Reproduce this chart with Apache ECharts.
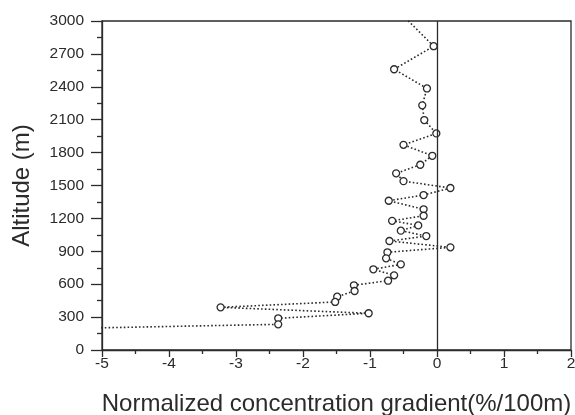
<!DOCTYPE html>
<html>
<head>
<meta charset="utf-8">
<script src="https://cdn.jsdelivr.net/npm/echarts@6/dist/echarts.min.js"></script>
<style>
  html, body { margin: 0; padding: 0; background: #fff; }
  #chart { width: 575px; height: 415px; }
</style>
</head>
<body>
<div id="chart"></div>
<script>
// gradient values (%/100m), top to bottom
var gradient = [
  -0.59, -0.05, -0.64, -0.15, -0.22, -0.19, -0.01, -0.50, -0.07, -0.25,
  -0.61, -0.50, 0.20, -0.20, -0.72, -0.20, -0.20, -0.67, -0.28, -0.54,
  -0.16, -0.71, 0.20, -0.74, -0.76, -0.54, -0.95, -0.64, -0.73, -1.24,
  -1.23, -1.49, -1.52, -3.23, -1.02, -2.37, -2.37, -5.3
]
// altitude of each point (m); first and last lie just outside the frame
var altitude = [
  3100, 2770, 2560, 2385, 2231, 2097, 1975, 1871, 1771, 1689,
  1611, 1540, 1477, 1413, 1361, 1283, 1224, 1178, 1136, 1088,
  1039, 994, 936, 891, 836, 781, 736, 681, 632, 590,
  538, 486, 438, 389, 335, 289, 234, 199
]

var ink = '#2b2b2b'
var font = 'Liberation Sans'
var points = gradient.map(function (g, i) { return [g, altitude[i]] })

var chart = echarts.init(document.getElementById('chart'))
chart.setOption({
  animation: false,
  grid: {
    left: 102, right: 4, top: 21, bottom: 65,
    outerBoundsMode: 'none', containLabel: false,
    show: true, borderColor: ink, borderWidth: 1.3, backgroundColor: 'transparent'
  },
  xAxis: {
    type: 'value', min: -5, max: 2, interval: 1,
    name: 'Normalized concentration gradient(%/100m)',
    nameLocation: 'middle', nameGap: 42,
    nameTextStyle: { color: ink, fontSize: 24, fontFamily: font },
    axisLine: { onZero: false, lineStyle: { color: ink, width: 1.3 } },
    axisTick: { length: 7, lineStyle: { color: ink, width: 1.3 } },
    minorTick: { show: true, splitNumber: 2, length: 4, lineStyle: { color: ink, width: 1.3 } },
    axisLabel: { color: ink, fontSize: 15.5, margin: 6, fontFamily: font },
    splitLine: { show: false }
  },
  yAxis: {
    type: 'value', min: 0, max: 3000, interval: 300,
    name: 'Altitude (m)',
    nameLocation: 'middle', nameGap: 68, nameRotate: 90,
    nameTextStyle: { color: ink, fontSize: 24, fontFamily: font },
    axisLine: { show: true, onZero: false, lineStyle: { color: ink, width: 1.3 } },
    axisTick: { show: true, length: 11, lineStyle: { color: ink, width: 1.3 } },
    minorTick: { show: true, splitNumber: 2, length: 5, lineStyle: { color: ink, width: 1.3 } },
    axisLabel: {
      color: ink, fontSize: 15.5, margin: 18, fontFamily: font,
      formatter: function (v) { return String(v) }
    },
    splitLine: { show: false }
  },
  series: [{
    type: 'line',
    data: points,
    clip: true,
    symbol: 'circle',
    symbolSize: 7,
    itemStyle: { color: '#fff', borderColor: ink, borderWidth: 1.3 },
    lineStyle: { color: ink, width: 1.6, type: [1.6, 2.2] },
    markLine: {
      silent: true,
      symbol: 'none',
      label: { show: false },
      lineStyle: { color: ink, width: 1.3, type: 'solid' },
      data: [{ xAxis: 0 }]
    }
  }]
})
</script>
</body>
</html>
